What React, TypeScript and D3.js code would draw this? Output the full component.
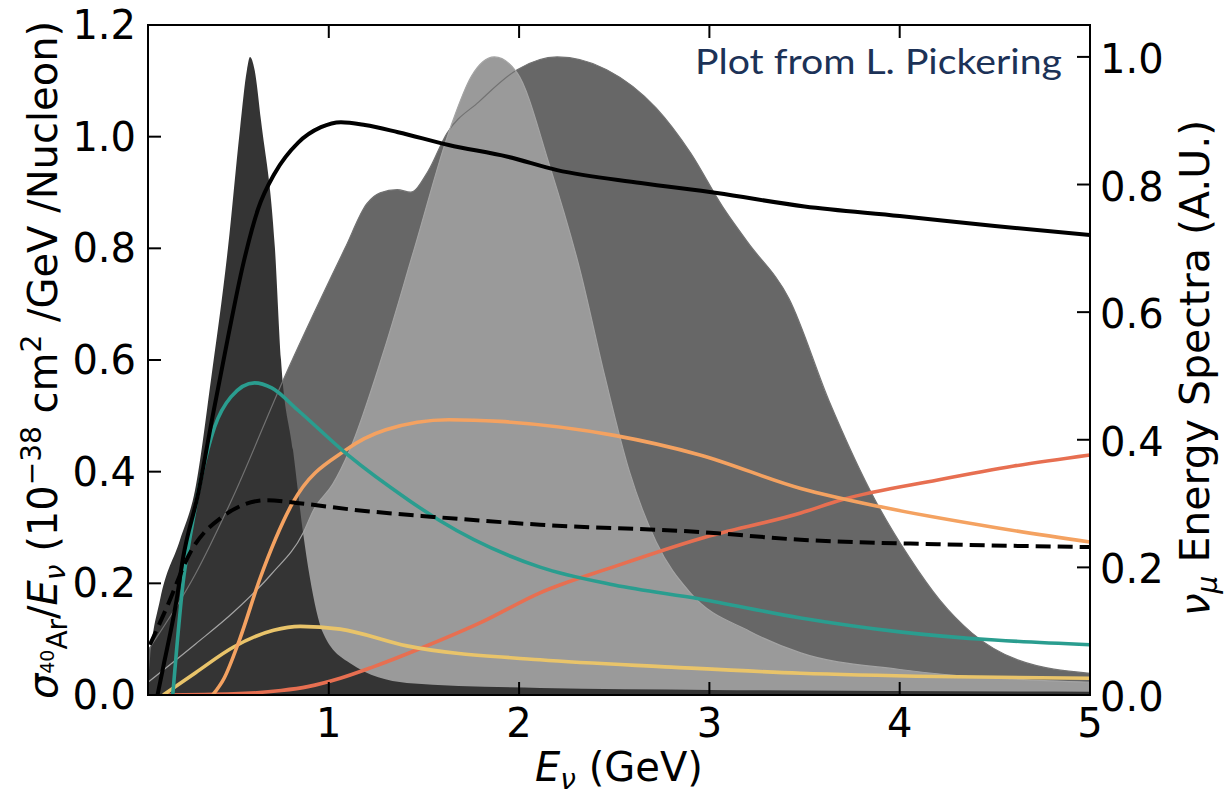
import React from "react";
import * as d3 from "d3";

const W = 1227;
const H = 796;
const plot = { left: 148, right: 1090, top: 25, bottom: 695 };

const xTicks = [1, 2, 3, 4, 5];
const leftTicks = [0, 0.2, 0.4, 0.6, 0.8, 1.0, 1.2];
const rightTicks = [0, 0.2, 0.4, 0.6, 0.8, 1.0];

// flux spectra, right axis (A.U.) -- [E (GeV), flux]
const fluxDune = [
  [0.05, 0.07], [0.3, 0.19], [0.49, 0.306], [0.77, 0.5], [1.03, 0.666], [1.085, 0.7],
  [1.2, 0.77], [1.27, 0.787], [1.36, 0.792], [1.43, 0.788], [1.52, 0.82], [1.62, 0.88],
  [1.79, 0.93], [1.99, 0.98], [2.2, 1.0], [2.46, 0.98], [2.72, 0.92], [2.9, 0.85],
  [3.07, 0.765], [3.2, 0.71], [3.42, 0.62], [3.63, 0.46], [3.87, 0.306], [4.05, 0.216],
  [4.21, 0.149], [4.38, 0.097], [4.62, 0.055], [5.0, 0.034],
];
const fluxNova = [
  [0.05, 0.02], [0.3, 0.08], [0.5, 0.13], [0.7, 0.19], [0.865, 0.254], [0.92, 0.29],
  [1.02, 0.33], [1.11, 0.384], [1.29, 0.54], [1.45, 0.7], [1.64, 0.89], [1.75, 0.97],
  [1.87, 1.0], [1.99, 0.975], [2.16, 0.83], [2.32, 0.666], [2.45, 0.5], [2.58, 0.35],
  [2.72, 0.24], [2.9, 0.16], [3.21, 0.1], [3.48, 0.066], [4.0, 0.04], [5.0, 0.02],
];
const fluxT2k = [
  [0.05, 0.02], [0.06, 0.055], [0.113, 0.149], [0.218, 0.243], [0.297, 0.321],
  [0.381, 0.494], [0.47, 0.7], [0.533, 0.886], [0.57, 0.98], [0.586, 1.0], [0.61, 0.98],
  [0.644, 0.9], [0.717, 0.7], [0.749, 0.525], [0.812, 0.384], [0.865, 0.254], [0.9, 0.185],
  [0.97, 0.097], [1.11, 0.05], [1.41, 0.019], [2.11, 0.011], [3.0, 0.008], [5.0, 0.005],
];

// cross sections per energy, left axis -- [E (GeV), sigma/E]
const xsecTotal = [
  [0.1, 0.0], [0.13, 0.05], [0.2, 0.17], [0.234, 0.245], [0.313, 0.36], [0.39, 0.5],
  [0.47, 0.64], [0.549, 0.77], [0.628, 0.87], [0.717, 0.935], [0.838, 0.989],
  [0.959, 1.017], [1.064, 1.026], [1.19, 1.021], [1.364, 1.008], [1.63, 0.985],
  [1.94, 0.964], [2.2, 0.94], [2.64, 0.917], [3.04, 0.899], [3.5, 0.875], [4.0, 0.858],
  [4.5, 0.84], [5.0, 0.824],
];
const xsecNC = [
  [0.06, 0.09], [0.15, 0.158], [0.27, 0.254], [0.44, 0.319], [0.675, 0.349], [0.83, 0.344],
  [1.15, 0.331], [1.55, 0.319], [2.11, 0.305], [2.95, 0.292], [3.48, 0.278], [4.2, 0.27],
  [5.0, 0.265],
];
const xsecQE = [
  [0.18, 0.0], [0.2, 0.08], [0.234, 0.2], [0.28, 0.3], [0.33, 0.39], [0.4, 0.48],
  [0.486, 0.534], [0.61, 0.559], [0.7, 0.55], [0.838, 0.51], [1.1, 0.43], [1.42, 0.349],
  [1.58, 0.313], [2.11, 0.229], [2.5, 0.197], [2.95, 0.172], [3.48, 0.138], [4.0, 0.113],
  [5.0, 0.09],
];
const xsecRES = [
  [0.39, 0.0], [0.45, 0.03], [0.53, 0.098], [0.64, 0.21], [0.81, 0.344], [1.09, 0.439],
  [1.3, 0.475], [1.63, 0.493], [1.9, 0.49], [2.5, 0.465], [2.95, 0.43], [3.48, 0.37],
  [3.9, 0.337], [4.5, 0.3], [5.0, 0.274],
];
const xsecMEC = [
  [0.13, 0.0], [0.3, 0.04], [0.5, 0.086], [0.71, 0.116], [0.85, 0.123], [1.06, 0.118],
  [1.41, 0.088], [2.11, 0.063], [2.8, 0.05], [3.48, 0.039], [4.2, 0.033], [5.0, 0.03],
];
const xsecDIS = [
  [0.13, 0.0], [0.5, 0.002], [0.75, 0.008], [0.89, 0.015], [1.06, 0.03], [1.23, 0.05],
  [1.5, 0.086], [1.8, 0.13], [2.11, 0.183], [2.5, 0.23], [2.95, 0.28], [3.48, 0.326],
  [3.7, 0.35], [4.2, 0.385], [4.6, 0.41], [5.0, 0.43],
];

const fluxes = [
  { name: "DUNE", data: fluxDune, color: "#676767", edge: "#727272" },
  { name: "NOvA", data: fluxNova, color: "#9a9a9a", edge: "#a4a4a4" },
  { name: "T2K", data: fluxT2k, color: "#343434", edge: null },
];

const xsecs = [
  { name: "DIS", data: xsecDIS, color: "#e76f51", dash: null, width: 3.6 },
  { name: "MEC", data: xsecMEC, color: "#e9c46a", dash: null, width: 3.6 },
  { name: "RES", data: xsecRES, color: "#f4a261", dash: null, width: 3.6 },
  { name: "QE", data: xsecQE, color: "#2a9d8f", dash: null, width: 3.6 },
  { name: "NC", data: xsecNC, color: "#000000", dash: "15,7", width: 4 },
  { name: "Total", data: xsecTotal, color: "#000000", dash: null, width: 4 },
];

const FONT = "'DejaVu Sans', sans-serif";

export default function App() {
  const x = d3.scaleLinear().domain([0.05, 5]).range([plot.left, plot.right]);
  const yL = d3.scaleLinear().domain([0, 1.2]).range([plot.bottom, plot.top]);
  const yR = d3.scaleLinear().domain([0, 1.05]).range([plot.bottom, plot.top]);

  const area = d3.area<number[]>()
    .x(d => x(d[0]))
    .y0(yR(0))
    .y1(d => yR(d[1]))
    .curve(d3.curveMonotoneX);
  const edge = d3.line<number[]>()
    .x(d => x(d[0]))
    .y(d => yR(d[1]))
    .curve(d3.curveMonotoneX);
  const line = d3.line<number[]>()
    .x(d => x(d[0]))
    .y(d => yL(d[1]))
    .curve(d3.curveMonotoneX);

  const tick = 13;
  const cx = (plot.left + plot.right) / 2;
  const cy = (plot.top + plot.bottom) / 2;

  return (
    <svg width={W} height={H} style={{ position: "absolute", left: 0, top: 0, background: "#fff", fontFamily: FONT }}>
      <defs>
        <clipPath id="plotclip">
          <rect x={plot.left} y={plot.top} width={plot.right - plot.left} height={plot.bottom - plot.top} />
        </clipPath>
      </defs>

      <g clipPath="url(#plotclip)">
        {fluxes.map(f => (
          <path key={f.name} d={area(f.data) || ""} fill={f.color} />
        ))}
        {fluxes.filter(f => f.edge).map(f => (
          <path key={f.name + "-edge"} d={edge(f.data) || ""} fill="none" stroke={f.edge as string} strokeWidth={1.2} />
        ))}
        {xsecs.map(s => (
          <path key={s.name} d={line(s.data) || ""} fill="none" stroke={s.color}
            strokeWidth={s.width} strokeDasharray={s.dash || undefined} strokeLinejoin="round" />
        ))}
      </g>

      {/* frame */}
      <rect x={plot.left} y={plot.top} width={plot.right - plot.left} height={plot.bottom - plot.top}
        fill="none" stroke="#000" strokeWidth={2} />

      {/* x ticks, bottom and top, pointing in */}
      {xTicks.map(t => (
        <g key={"x" + t}>
          <line x1={x(t)} x2={x(t)} y1={plot.bottom} y2={plot.bottom - tick} stroke="#000" strokeWidth={2} />
          <line x1={x(t)} x2={x(t)} y1={plot.top} y2={plot.top + tick} stroke="#000" strokeWidth={2} />
          <text x={x(t)} y={737} textAnchor="middle" fontSize={40}>{t}</text>
        </g>
      ))}

      {/* left ticks */}
      {leftTicks.map(t => (
        <g key={"l" + t}>
          <line x1={plot.left} x2={plot.left + tick} y1={yL(t)} y2={yL(t)} stroke="#000" strokeWidth={2} />
          <text x={136} y={yL(t) + 14} textAnchor="end" fontSize={40}>{t.toFixed(1)}</text>
        </g>
      ))}

      {/* right ticks */}
      {rightTicks.map(t => (
        <g key={"r" + t}>
          <line x1={plot.right} x2={plot.right - tick} y1={yR(t)} y2={yR(t)} stroke="#000" strokeWidth={2} />
          <text x={1100} y={yR(t) + 16} textAnchor="start" fontSize={40}>{t.toFixed(1)}</text>
        </g>
      ))}

      {/* axis labels */}
      <text x={cx} y={781} textAnchor="middle" fontSize={40}>
        <tspan fontStyle="italic">E</tspan>
        <tspan fontSize={28} fontStyle="italic" dy={8}>ν</tspan>
        <tspan dy={-8}> (GeV)</tspan>
      </text>

      <text transform={`translate(57,${cy}) rotate(-90)`} textAnchor="middle" fontSize={40}>
        <tspan fontStyle="italic">σ</tspan>
        <tspan fontSize={19} dy={-3}>40</tspan>
        <tspan fontSize={28} dy={13}>Ar</tspan>
        <tspan dy={-10}>/</tspan>
        <tspan fontStyle="italic">E</tspan>
        <tspan fontSize={28} fontStyle="italic" dy={8}>ν</tspan>
        <tspan dy={-8}> (10</tspan>
        <tspan fontSize={28} dy={-16}>−38</tspan>
        <tspan dy={16}> cm</tspan>
        <tspan fontSize={28} dy={-16}>2</tspan>
        <tspan dy={16}> /GeV /Nucleon)</tspan>
      </text>

      <text transform={`translate(1209,${cy + 8}) rotate(-90)`} textAnchor="middle" fontSize={41}>
        <tspan fontStyle="italic">ν</tspan>
        <tspan fontSize={28} fontStyle="italic" dy={8}>μ</tspan>
        <tspan dy={-8}> Energy Spectra (A.U.)</tspan>
      </text>

      <text x={695} y={74} fontSize={35} fill="#1c3257" style={{ fontFamily: "Lato, sans-serif" }}
        textLength={367} lengthAdjust="spacingAndGlyphs">Plot from L. Pickering</text>
    </svg>
  );
}
